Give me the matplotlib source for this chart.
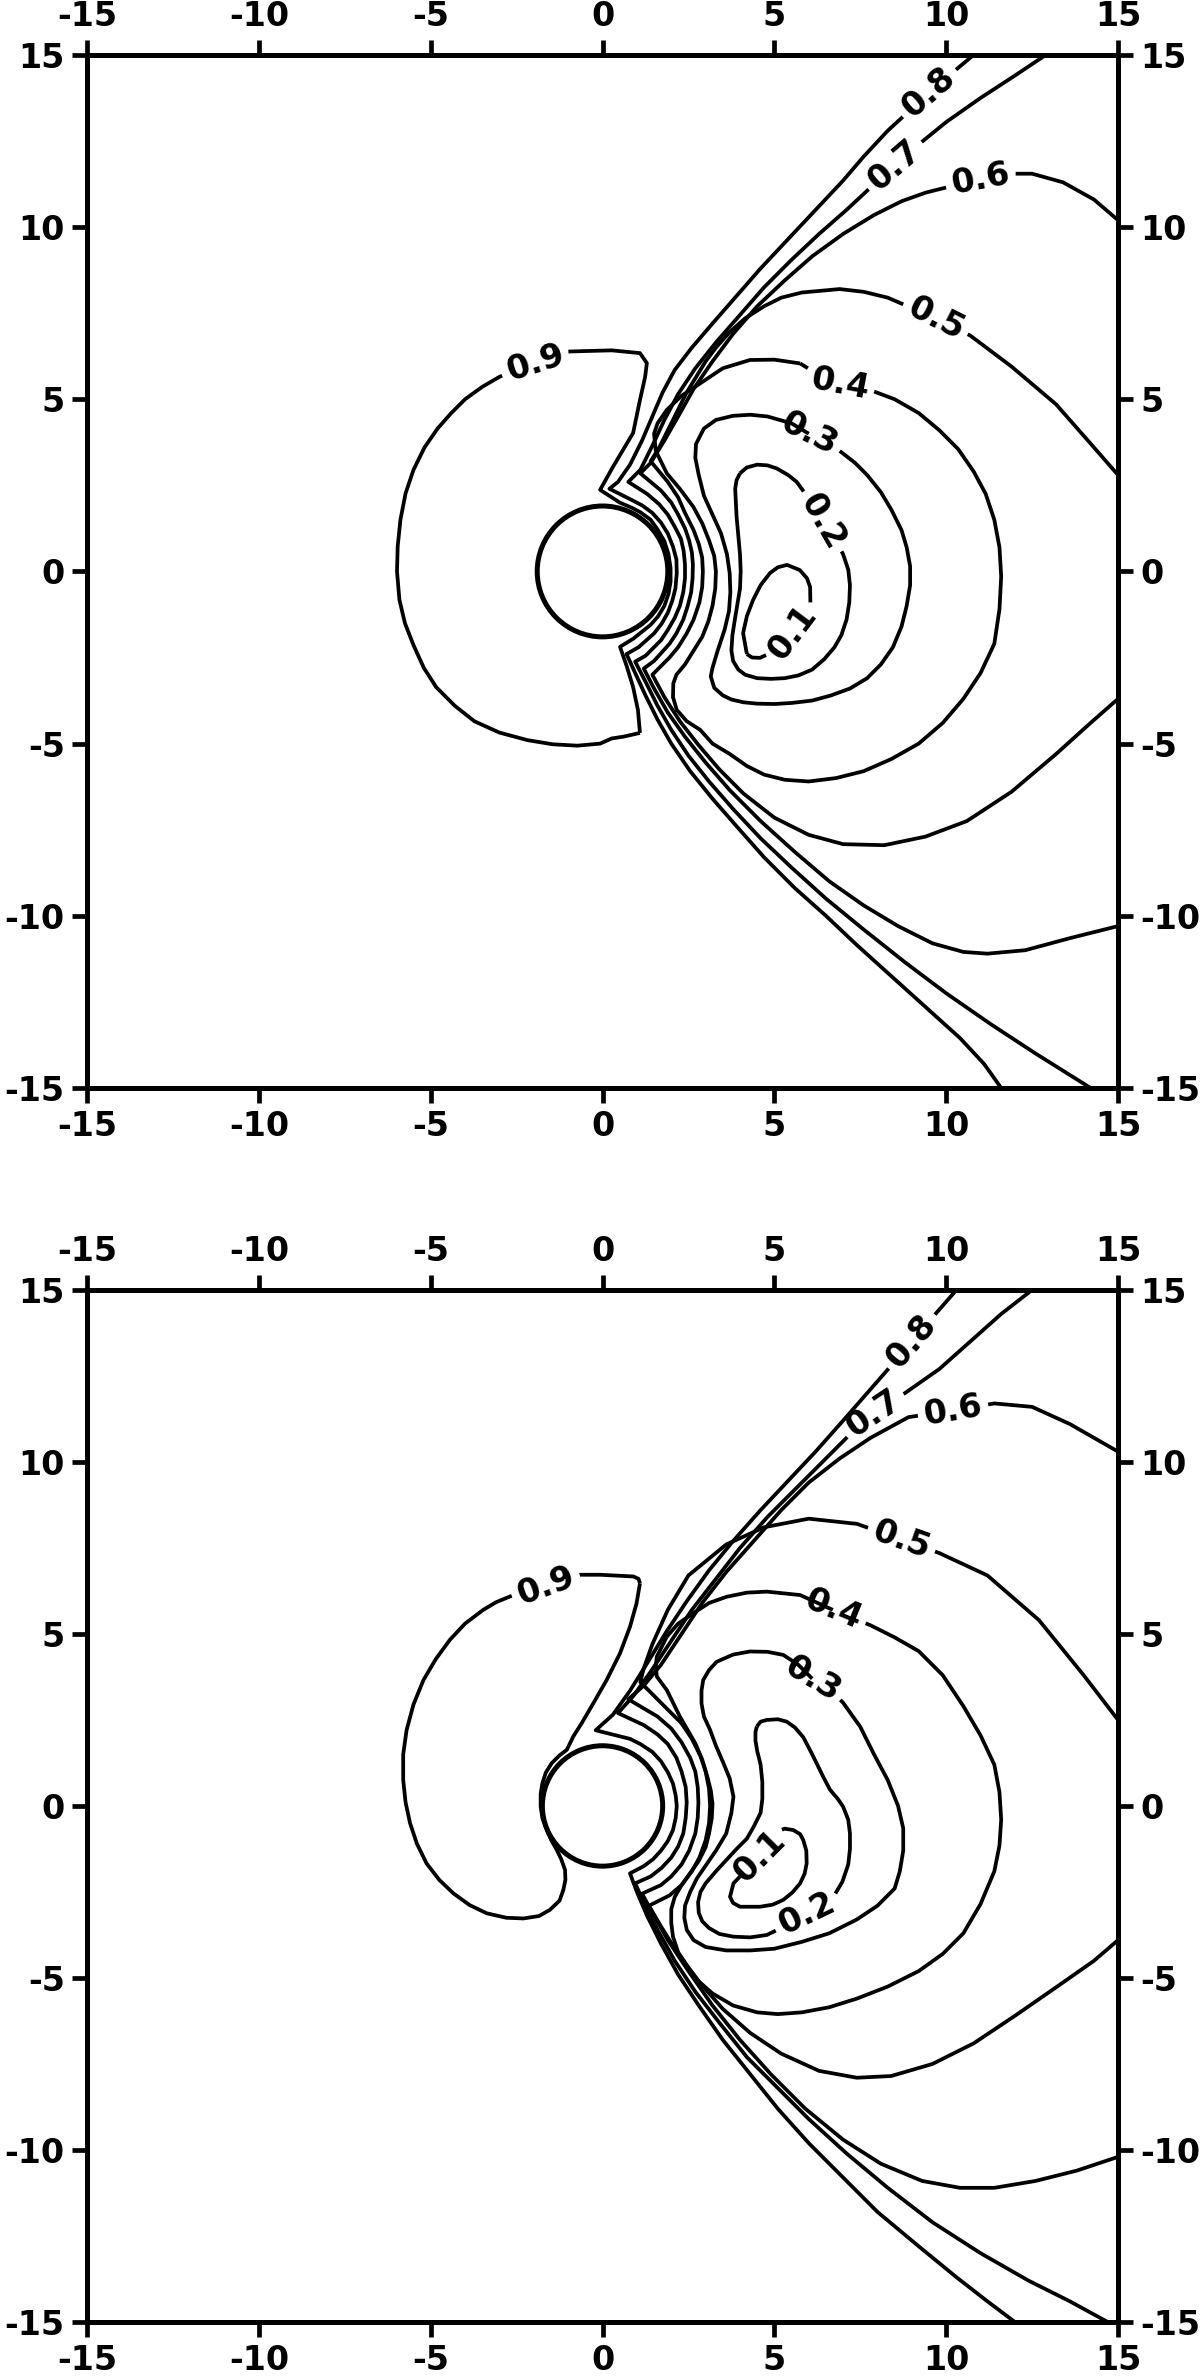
import numpy as np
import matplotlib
matplotlib.use("Agg")
import matplotlib.pyplot as plt
from matplotlib.patches import Circle

plt.rcParams['font.family'] = ['DejaVu Sans']
plt.rcParams['font.weight'] = 'bold'
plt.rcParams['axes.unicode_minus'] = False

levels = ['0.1', '0.2', '0.3', '0.4', '0.5', '0.6', '0.7', '0.8', '0.9']
ticks = [-15, -10, -5, 0, 5, 10, 15]

top_body_r = 1.9

top_01 = [(4.2, -2.4), (4.09, -1.79), (4.2, -1.3), (4.38, -0.83), (4.6, -0.4), (4.87, -0.05), (5.1, 0.12),
          (5.37, 0.19), (5.74, 0.04), (5.95, -0.2), (6.04, -0.45), (6.05, -1.0), (5.8, -1.4), (5.5, -1.8),
          (5.08, -2.28), (4.58, -2.51), (4.35, -2.5), (4.2, -2.4)]
top_02 = [(4.0, 2.85), (4.2, 3.02), (4.5, 3.1), (4.8, 3.08), (5.07, 2.99), (5.4, 2.8), (5.65, 2.6),
          (6.05, 2.05), (6.4, 1.45), (6.75, 0.95), (7.0, 0.5), (7.15, 0.05), (7.2, -0.4), (7.18, -0.9),
          (7.1, -1.4), (6.95, -1.85), (6.75, -2.2), (6.45, -2.55), (6.1, -2.85), (5.7, -3.02), (5.3, -3.1),
          (4.9, -3.12), (4.5, -3.1), (4.15, -3.0), (3.95, -2.85), (3.8, -2.6), (3.75, -2.3), (3.78, -1.85),
          (3.85, -1.4), (4.0, -0.5), (4.02, 0.0), (4.0, 0.5), (3.95, 1.05), (3.9, 1.6), (3.86, 2.4),
          (3.9, 2.65), (4.0, 2.85)]
top_03 = [(6.0, 4.0), (6.5, 3.75), (6.9, 3.5), (7.35, 3.15), (7.7, 2.8), (8.1, 2.3), (8.4, 1.8), (8.7, 1.2),
          (8.85, 0.7), (8.95, 0.15), (8.95, -0.4), (8.85, -1.0), (8.7, -1.6), (8.45, -2.2), (8.1, -2.7),
          (7.7, -3.1), (7.2, -3.4), (6.65, -3.6), (6.1, -3.75), (5.5, -3.82), (5.0, -3.85), (4.5, -3.84),
          (4.1, -3.8), (3.75, -3.72), (3.5, -3.6), (3.25, -3.38), (3.15, -3.05), (3.2, -2.8), (3.35, -2.3),
          (3.55, -1.7), (3.68, -1.15), (3.72, -0.6), (3.7, -0.05), (3.62, 0.5), (3.45, 1.1), (3.2, 1.65),
          (2.95, 2.2), (2.8, 2.8), (2.7, 3.3), (2.72, 3.7), (2.95, 4.15), (3.3, 4.4), (3.8, 4.52),
          (4.3, 4.55), (4.8, 4.5), (5.5, 4.3), (6.0, 4.0)]
top_04 = [(5.75, 6.04), (5.0, 6.15), (4.29, 6.14), (3.5, 5.9), (2.84, 5.46), (2.3, 5.1), (1.87, 4.69),
          (1.6, 4.3), (1.5, 4.0), (1.55, 3.5), (1.87, 2.85), (2.25, 2.4), (2.64, 1.88), (2.9, 1.4),
          (3.1, 0.9), (3.25, 0.45), (3.3, 0.0), (3.28, -0.5), (3.2, -1.0), (3.08, -1.45), (2.9, -1.9),
          (2.65, -2.3), (2.4, -2.7), (2.15, -3.0), (2.06, -3.25), (2.05, -3.65), (2.16, -4.02),
          (2.45, -4.35), (2.84, -4.6), (3.2, -5.0), (3.7, -5.3), (4.2, -5.65), (4.7, -5.9), (5.3, -6.05),
          (6.0, -6.1), (6.8, -6.0), (7.6, -5.8), (8.4, -5.45), (9.2, -5.0), (9.9, -4.4), (10.5, -3.7),
          (11.0, -2.95), (11.4, -2.1), (11.55, -1.1), (11.6, -0.15), (11.55, 0.7), (11.4, 1.5),
          (11.15, 2.25), (10.8, 2.9), (10.35, 3.55), (9.8, 4.1), (9.2, 4.6), (8.5, 5.0), (7.7, 5.3),
          (6.9, 5.45), (6.3, 5.7), (5.75, 6.04)]
top_05 = [(15.0, 2.8), (14.3, 3.6), (13.2, 4.85), (11.9, 5.95), (10.7, 6.85), (9.7, 7.35), (8.3, 7.95),
          (7.6, 8.12), (6.9, 8.2), (5.8, 8.1), (5.2, 7.95), (4.7, 7.7), (4.15, 7.35), (3.7, 6.95), (3.3, 6.5),
          (3.0, 6.1), (2.45, 5.2), (2.0, 4.3), (1.65, 3.6), (1.4, 3.2), (1.9, 2.6), (2.2, 2.15), (2.4, 1.7),
          (2.65, 1.2), (2.8, 0.8), (2.9, 0.4), (2.92, 0.0), (2.9, -0.45), (2.82, -0.9), (2.65, -1.4),
          (2.45, -1.8), (2.2, -2.2), (1.95, -2.5), (1.45, -3.0), (1.8, -3.65), (2.25, -4.35), (2.8, -5.05),
          (3.4, -5.75), (4.1, -6.45), (5.0, -7.15), (6.0, -7.65), (7.0, -7.92), (8.2, -7.95), (9.4, -7.7),
          (10.6, -7.25), (11.9, -6.4), (13.2, -5.3), (14.2, -4.4), (15.0, -3.7)]
top_06 = [(15.0, 10.2), (14.3, 10.8), (13.4, 11.3), (12.5, 11.55), (11.8, 11.55), (11.0, 11.4),
          (10.2, 11.2), (9.4, 11.0), (8.7, 10.75), (7.9, 10.35), (7.0, 9.8), (6.1, 9.15), (5.3, 8.45),
          (4.5, 7.7), (3.8, 6.9), (3.2, 6.1), (2.65, 5.3), (2.2, 4.5), (1.8, 3.8), (1.4, 3.15), (1.1, 2.85),
          (1.7, 2.35), (2.0, 2.0), (2.2, 1.65), (2.4, 1.25), (2.52, 0.9), (2.6, 0.55), (2.63, 0.2),
          (2.62, -0.2), (2.58, -0.6), (2.48, -1.0), (2.35, -1.4), (2.15, -1.8), (1.95, -2.1), (1.5, -2.6),
          (1.2, -2.82), (1.5, -3.4), (1.9, -4.1), (2.4, -4.8), (3.0, -5.55), (3.7, -6.35), (4.6, -7.25),
          (5.6, -8.15), (6.6, -9.0), (7.6, -9.7), (8.6, -10.3), (9.6, -10.8), (10.5, -11.05), (11.2, -11.1),
          (12.3, -11.0), (13.6, -10.65), (15.0, -10.3)]
top_07 = [(12.9, 15.0), (12.0, 14.4), (11.0, 13.75), (10.0, 13.05), (9.2, 12.4), (8.5, 11.8), (7.8, 11.15),
          (7.1, 10.5), (6.3, 9.8), (5.5, 9.05), (4.7, 8.25), (4.0, 7.45), (3.3, 6.65), (2.7, 5.9),
          (2.2, 5.15), (1.8, 4.4), (1.45, 3.65), (1.1, 2.95), (0.75, 2.6), (1.3, 2.25), (1.65, 1.95),
          (1.9, 1.65), (2.1, 1.3), (2.28, 0.95), (2.36, 0.6), (2.4, 0.2), (2.4, -0.2), (2.35, -0.6),
          (2.25, -1.0), (2.1, -1.35), (1.9, -1.7), (1.7, -2.0), (1.25, -2.45), (0.95, -2.62), (1.25, -3.2),
          (1.6, -3.9), (2.0, -4.6), (2.5, -5.35), (3.1, -6.1), (3.8, -6.9), (4.6, -7.75), (5.5, -8.6),
          (6.5, -9.5), (7.6, -10.4), (8.8, -11.35), (10.0, -12.25), (11.3, -13.15), (12.6, -14.0),
          (14.2, -15.0)]
top_08 = [(10.8, 15.0), (10.2, 14.5), (9.5, 13.9), (8.9, 13.35), (8.3, 12.8), (7.6, 12.05), (7.0, 11.35),
          (6.2, 10.5), (5.4, 9.65), (4.6, 8.8), (3.9, 8.0), (3.2, 7.2), (2.6, 6.5), (2.1, 5.85), (1.75, 5.2),
          (1.45, 4.5), (1.15, 3.8), (0.8, 3.1), (0.45, 2.6), (0.2, 2.4), (0.8, 2.1), (1.15, 1.92),
          (1.45, 1.7), (1.7, 1.42), (1.9, 1.1), (2.05, 0.72), (2.15, 0.35), (2.16, -0.05), (2.12, -0.5),
          (2.03, -0.85), (1.9, -1.2), (1.72, -1.52), (1.5, -1.8), (1.05, -2.2), (0.7, -2.4), (0.95, -2.95),
          (1.25, -3.6), (1.6, -4.3), (2.0, -5.0), (2.55, -5.8), (3.2, -6.6), (3.9, -7.4), (4.7, -8.3),
          (5.6, -9.2), (6.5, -10.0), (7.4, -10.85), (8.4, -11.75), (9.4, -12.65), (10.4, -13.55),
          (11.1, -14.3), (11.6, -15.0)]
top_09 = [(1.09, -4.69), (0.6, -4.8), (0.27, -4.85), (-0.07, -5.0), (-0.73, -5.06), (-1.45, -5.02),
          (-2.18, -4.9), (-3.0, -4.68), (-3.73, -4.35), (-4.3, -3.9), (-4.84, -3.36), (-5.2, -2.8),
          (-5.5, -2.14), (-5.75, -1.5), (-5.91, -0.82), (-5.98, 0.0), (-5.96, 0.73), (-5.88, 1.5),
          (-5.73, 2.27), (-5.5, 2.95), (-5.18, 3.6), (-4.8, 4.15), (-4.4, 4.6), (-4.0, 5.0), (-3.5, 5.36),
          (-3.0, 5.65), (-2.4, 5.92), (-1.96, 6.06), (-1.5, 6.2), (-1.18, 6.38), (-0.5, 6.4), (0.27, 6.42),
          (1.09, 6.34), (1.29, 6.05), (1.24, 5.65), (1.09, 4.98), (0.89, 4.02), (0.30, 3.03), (-0.07, 2.37),
          (0.5, 2.0), (0.85, 1.85), (1.1, 1.72), (1.4, 1.5), (1.6, 1.22), (1.8, 0.88), (1.92, 0.5),
          (1.98, 0.1), (1.98, -0.3), (1.92, -0.65), (1.8, -1.0), (1.62, -1.3), (1.4, -1.55), (0.9, -1.95),
          (0.51, -2.19), (0.71, -2.77), (0.89, -3.36), (1.03, -4.02), (1.09, -4.69)]
top_lines = [top_01, top_02, top_03, top_04, top_05, top_06, top_07, top_08, top_09]
top_label_xy = [(5.5, -1.75), (6.4, 1.45), (6.0, 4.0), (6.9, 5.45), (9.7, 7.35),
                (11.0, 11.4), (8.5, 11.8), (9.5, 13.9), (-1.96, 6.06)]

# ---------------- bottom panel ----------------
bot_body_r = 1.75

bot_01 = [(4.0, -2.05), (4.58, -1.47), (5.07, -0.75), (5.3, -0.66), (5.55, -0.7), (5.75, -0.82),
          (5.84, -0.99), (5.93, -1.3), (5.94, -1.67), (5.88, -1.97), (5.75, -2.25), (5.52, -2.52),
          (5.26, -2.73), (4.95, -2.87), (4.58, -2.93), (4.0, -2.93), (3.8, -2.82), (3.71, -2.64),
          (3.81, -2.25), (4.0, -2.05)]
bot_02 = [(4.49, 2.31), (4.6, 2.45), (4.78, 2.5), (5.1, 2.52), (5.36, 2.45), (5.6, 2.28), (5.84, 2.0),
          (6.05, 1.6), (6.23, 1.24), (6.42, 0.85), (6.62, 0.47), (6.85, 0.2), (7.0, -0.02), (7.15, -0.4),
          (7.2, -0.8), (7.2, -1.25), (7.15, -1.7), (6.98, -2.2), (6.72, -2.64), (6.4, -2.9), (5.94, -3.12),
          (5.4, -3.45), (4.78, -3.75), (4.3, -3.82), (3.81, -3.8), (3.4, -3.72), (3.1, -3.55), (2.9, -3.35),
          (2.8, -3.1), (2.78, -2.8), (2.85, -2.5), (3.0, -2.25), (3.3, -1.9), (3.9, -1.25), (4.2, -0.95),
          (4.4, -0.6), (4.6, -0.2), (4.65, 0.2), (4.65, 0.7), (4.6, 1.2), (4.5, 1.6), (4.45, 1.9),
          (4.45, 2.15), (4.49, 2.31)]
bot_03 = [(6.1, 3.7), (6.6, 3.4), (7.0, 3.0), (7.5, 2.3), (7.9, 1.5), (8.3, 0.75), (8.6, 0.0), (8.75, -0.65),
          (8.75, -1.3), (8.65, -1.9), (8.5, -2.4), (8.0, -2.9), (7.4, -3.3), (6.6, -3.7), (5.8, -3.95),
          (5.0, -4.15), (4.3, -4.2), (3.6, -4.2), (3.0, -4.1), (2.65, -3.9), (2.45, -3.6), (2.38, -3.25),
          (2.4, -2.9), (2.55, -2.5), (2.75, -2.1), (3.3, -1.3), (3.6, -0.8), (3.75, -0.2), (3.81, 0.27),
          (3.7, 0.8), (3.52, 1.24), (3.3, 1.75), (3.13, 2.21), (2.95, 2.6), (2.88, 2.98), (2.88, 3.35),
          (2.93, 3.66), (3.1, 3.95), (3.32, 4.19), (3.8, 4.4), (4.29, 4.49), (4.8, 4.48), (5.26, 4.39),
          (5.7, 4.1), (6.1, 3.7)]
bot_04 = [(6.7, 5.7), (7.8, 5.25), (8.5, 4.9), (9.2, 4.5), (9.9, 3.8), (10.5, 2.9), (11.0, 2.05), (11.4, 1.2),
          (11.55, 0.4), (11.6, -0.4), (11.55, -1.15), (11.4, -1.9), (11.0, -2.85), (10.5, -3.7), (9.9, -4.3),
          (9.2, -4.8), (8.3, -5.25), (7.4, -5.6), (6.6, -5.85), (5.8, -6.0), (5.1, -6.05), (4.5, -6.0),
          (3.8, -5.8), (3.2, -5.45), (2.8, -5.1), (2.5, -4.7), (2.2, -4.25), (2.05, -3.8), (2.0, -3.4),
          (2.0, -3.0), (2.1, -2.65), (2.3, -2.3), (2.8, -1.6), (3.0, -1.2), (3.1, -0.8), (3.18, -0.35),
          (3.2, 0.07), (3.15, 0.45), (3.05, 0.85), (2.9, 1.35), (2.7, 1.82), (2.25, 2.6), (1.87, 3.37),
          (1.58, 3.76), (1.55, 4.05), (1.58, 4.34), (1.87, 4.92), (2.2, 5.3), (2.64, 5.6), (3.1, 5.9),
          (3.61, 6.08), (4.2, 6.2), (4.78, 6.23), (5.75, 6.13), (6.7, 5.7)]
bot_05 = [(15.0, 2.5), (14.0, 3.8), (12.7, 5.4), (11.2, 6.7), (9.8, 7.35), (8.7, 7.74), (7.4, 8.2),
          (6.0, 8.35), (4.7, 8.1), (3.6, 7.6), (2.5, 6.7), (1.9, 5.7), (1.45, 4.7), (1.2, 4.0), (1.1, 3.6),
          (1.9, 2.8), (2.3, 2.4), (2.6, 1.95), (2.85, 1.45), (3.0, 1.0), (3.1, 0.5), (3.13, 0.0), (3.1, -0.5),
          (3.0, -1.0), (2.82, -1.5), (2.6, -1.9), (2.3, -2.3), (1.95, -2.6), (1.35, -2.9), (1.7, -3.5),
          (2.2, -4.3), (2.8, -5.1), (3.5, -5.9), (4.3, -6.6), (5.2, -7.2), (6.3, -7.7), (7.4, -7.9),
          (8.4, -7.85), (9.6, -7.5), (10.8, -6.9), (12.0, -6.1), (13.3, -5.2), (14.3, -4.5), (15.0, -3.9)]
bot_06 = [(15.0, 10.3), (13.6, 11.1), (12.5, 11.6), (11.4, 11.7), (10.2, 11.5), (8.9, 11.3), (7.8, 10.7),
          (6.9, 10.1), (6.0, 9.4), (5.2, 8.6), (4.4, 7.7), (3.6, 6.8), (2.9, 5.9), (2.3, 5.0), (1.7, 4.1),
          (1.2, 3.5), (0.75, 3.1), (1.6, 2.6), (2.0, 2.25), (2.3, 1.85), (2.55, 1.4), (2.7, 1.0), (2.77, 0.55),
          (2.79, 0.1), (2.77, -0.35), (2.7, -0.8), (2.52, -1.3), (2.3, -1.7), (2.0, -2.05), (1.7, -2.3),
          (1.15, -2.55), (1.45, -3.1), (1.9, -3.9), (2.5, -4.8), (3.2, -5.8), (4.0, -6.8), (4.9, -7.8),
          (5.9, -8.8), (7.0, -9.7), (8.1, -10.4), (9.3, -10.9), (10.4, -11.1), (11.4, -11.1), (12.6, -10.9),
          (13.8, -10.6), (15.0, -10.2)]
bot_07 = [(12.5, 15.0), (11.6, 14.3), (10.7, 13.5), (9.8, 12.7), (8.8, 12.0), (7.9, 11.4), (7.2, 10.8),
          (6.4, 10.0), (5.6, 9.2), (4.8, 8.4), (4.0, 7.5), (3.3, 6.6), (2.6, 5.7), (2.0, 4.8), (1.4, 3.9),
          (0.9, 3.2), (0.45, 2.7), (1.2, 2.35), (1.6, 2.08), (1.9, 1.8), (2.15, 1.4), (2.3, 1.0), (2.42, 0.55),
          (2.45, 0.1), (2.42, -0.35), (2.35, -0.8), (2.2, -1.18), (2.0, -1.5), (1.72, -1.8), (1.4, -2.05),
          (0.95, -2.25), (1.2, -2.8), (1.6, -3.6), (2.1, -4.5), (2.7, -5.4), (3.4, -6.3), (4.2, -7.3),
          (5.1, -8.2), (6.0, -9.1), (7.1, -10.1), (8.3, -11.1), (9.6, -12.1), (11.0, -13.0), (12.4, -13.8),
          (13.6, -14.4), (14.7, -15.0)]
bot_08 = [(10.3, 15.0), (9.6, 14.2), (9.0, 13.5), (8.4, 12.8), (7.7, 12.0), (7.0, 11.2), (6.2, 10.3),
          (5.4, 9.45), (4.6, 8.6), (3.8, 7.7), (3.1, 6.85), (2.45, 5.95), (1.85, 5.05), (1.3, 4.15),
          (0.8, 3.35), (0.3, 2.65), (-0.2, 2.2), (0.4, 2.05), (0.8, 1.95), (1.1, 1.8), (1.45, 1.57),
          (1.7, 1.3), (1.9, 0.98), (2.05, 0.65), (2.13, 0.3), (2.16, 0.0), (2.13, -0.35), (2.05, -0.7),
          (1.9, -1.02), (1.7, -1.3), (1.47, -1.55), (1.2, -1.75), (0.8, -1.96), (1.0, -2.5), (1.3, -3.2),
          (1.7, -4.0), (2.2, -4.9), (2.8, -5.8), (3.5, -6.8), (4.3, -7.8), (5.1, -8.8), (6.0, -9.8),
          (7.0, -10.8), (8.0, -11.8), (9.2, -12.8), (10.3, -13.7), (11.2, -14.4), (12.0, -15.0)]
bot_09 = [(1.09, 6.47), (1.05, 6.6), (0.9, 6.67), (-0.07, 6.72), (-0.65, 6.72), (-1.15, 6.58), (-1.65, 6.4),
          (-2.2, 6.25), (-2.69, 6.09), (-3.1, 5.92), (-3.47, 5.7), (-4.0, 5.3), (-4.44, 4.83), (-4.85, 4.27),
          (-5.21, 3.66), (-5.5, 2.95), (-5.7, 2.21), (-5.8, 1.5), (-5.8, 0.76), (-5.73, 0.1), (-5.6, -0.5),
          (-5.4, -1.1), (-5.12, -1.67), (-4.75, -2.15), (-4.34, -2.54), (-3.87, -2.88), (-3.37, -3.12),
          (-2.8, -3.25), (-2.3, -3.27), (-1.85, -3.2), (-1.53, -3.02), (-1.25, -2.75), (-1.14, -2.44),
          (-1.08, -2.15), (-1.09, -1.86), (-1.2, -1.55), (-1.33, -1.28), (-1.5, -0.98), (-1.62, -0.7),
          (-1.75, -0.35), (-1.8, -0.02), (-1.8, 0.35), (-1.75, 0.66), (-1.65, 0.97), (-1.48, 1.24),
          (-1.25, 1.47), (-1.04, 1.63), (-0.85, 2.02), (-0.61, 2.4), (-0.27, 2.98), (0.12, 3.66),
          (0.51, 4.44), (0.8, 5.21), (0.99, 5.89), (1.09, 6.47)]
bot_lines = [bot_01, bot_02, bot_03, bot_04, bot_05, bot_06, bot_07, bot_08, bot_09]
bot_label_xy = [(4.58, -1.47), (5.94, -3.12), (6.1, 3.7), (6.7, 5.7), (8.7, 7.74),
                (10.2, 11.5), (7.9, 11.4), (9.0, 13.5), (-1.65, 6.4)]

FS = 24
LW = 2.7

fig = plt.figure(figsize=(12, 23.77), dpi=100)
renderer = fig.canvas.get_renderer()


def draw_labelled(ax, pts, lab_xy, text):
    d = ax.transData.transform(np.asarray(pts, float))
    p = ax.transData.transform(lab_xy)
    seg = d[1:] - d[:-1]
    L = np.hypot(seg[:, 0], seg[:, 1])
    s = np.concatenate([[0], np.cumsum(L)])
    t = np.clip(((p - d[:-1]) * seg).sum(1) / np.maximum(L ** 2, 1e-9), 0, 1)
    proj = d[:-1] + seg * t[:, None]
    i = np.argmin(np.hypot(*(proj - p).T))
    s0 = s[i] + t[i] * L[i]
    ang = np.degrees(np.arctan2(seg[i, 1], seg[i, 0]))
    if ang > 90:
        ang -= 180
    if ang < -90:
        ang += 180
    c = ax.transData.inverted().transform(proj[i])
    txt = ax.text(c[0], c[1], text, fontsize=FS, fontweight='bold', ha='center', va='center',
                  rotation=0, rotation_mode='anchor', zorder=5)
    half = txt.get_window_extent(renderer).width / 2 + 6
    txt.set_rotation(ang)

    def at(sv):
        j = int(np.clip(np.searchsorted(s, sv) - 1, 0, len(L) - 1))
        f = (sv - s[j]) / max(L[j], 1e-9)
        return d[j] + seg[j] * f

    a = [q for q, sv in zip(d, s) if sv < s0 - half] + [at(s0 - half)]
    b = [at(s0 + half)] + [q for q, sv in zip(d, s) if sv > s0 + half]
    for part in (a, b):
        part = ax.transData.inverted().transform(np.array(part))
        ax.plot(part[:, 0], part[:, 1], color='k', lw=LW, solid_capstyle='butt',
                solid_joinstyle='round')


def panel(rect, lines, label_xy, body_r):
    ax = fig.add_axes(rect)
    ax.set_xlim(-15, 15)
    ax.set_ylim(-15, 15)
    ax.set_xticks(ticks)
    ax.set_yticks(ticks)
    ax.tick_params(top=True, right=True, labeltop=True, labelright=True, direction='out',
                   length=11, width=3.4, labelsize=FS, pad=5)
    for lab in ax.get_xticklabels() + ax.get_yticklabels():
        lab.set_fontweight('bold')
    for sp in ax.spines.values():
        sp.set_linewidth(3.6)
    for pts, lxy, txt in zip(lines, label_xy, levels):
        draw_labelled(ax, pts, lxy, txt)
    ax.add_patch(Circle((0, 0), body_r, fill=False, lw=3.6, ec='k'))
    return ax


panel([0.0725, 0.5423, 0.8592, 0.4346], top_lines, top_label_xy, top_body_r)
panel([0.0725, 0.02314, 0.8592, 0.4342], bot_lines, bot_label_xy, bot_body_r)

fig.savefig('out.png', dpi=100)
